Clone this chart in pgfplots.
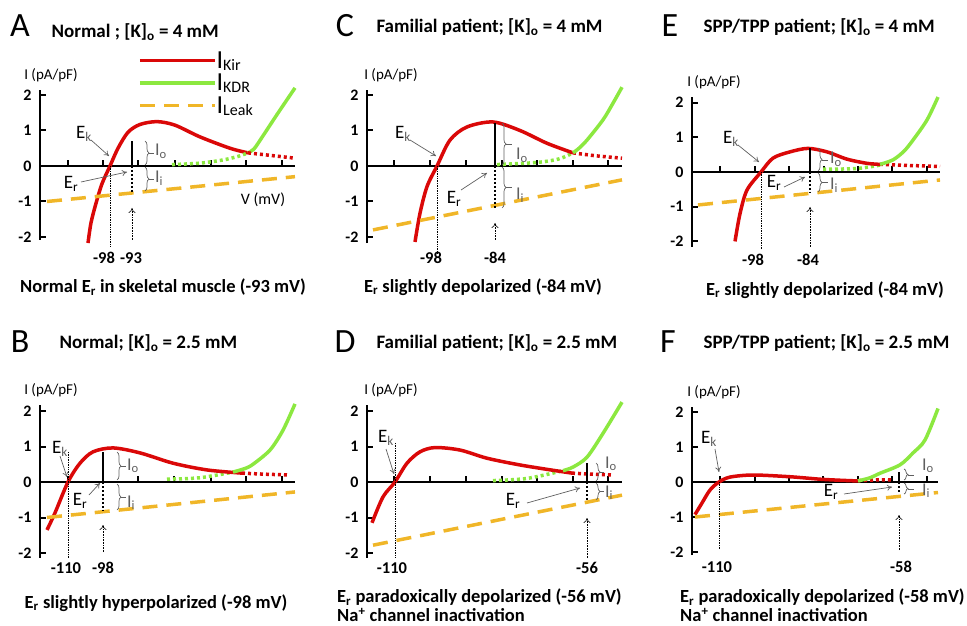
\documentclass[border=0pt]{standalone}
\usepackage{pgfplots}
\pgfplotsset{compat=1.18}
\usepackage{fontspec}
\setmainfont{Carlito}
\usetikzlibrary{decorations.pathreplacing,arrows.meta}

\definecolor{cKir}{RGB}{218,8,8}
\definecolor{cKdr}{RGB}{140,232,64}
\definecolor{cLeak}{RGB}{240,182,40}
\definecolor{note}{RGB}{95,95,95}

\newcommand\fs[1]{\fontsize{#1}{#1}\selectfont}
\newcommand\leg[1]{\fs{26}I\raisebox{-2pt}{\fs{16}#1}}

\pgfplotsset{
  panel/.style={
    anchor=origin, x=1pt, xmin=0,
    axis x line*=middle, axis y line*=left,
    axis line style={line width=2.6pt, black},
    tick align=inside,
    major tick length=6pt,
    tick style={line width=2pt, black},
    ytick={-2,-1,0,1,2}, yticklabels={-2,-1,0,1,2},
    yticklabel style={font=\bfseries\fs{16}, xshift=-5pt},
    xticklabels={},
    clip=false,
  },
  kir/.style={cKir, line width=3.5pt, smooth},
  kirdot/.style={cKir, line width=3.5pt, dash pattern=on 3pt off 3pt, smooth},
  kdr/.style={cKdr, line width=3.5pt, smooth},
  kdrdot/.style={cKdr, line width=3.5pt, dash pattern=on 3pt off 3pt, smooth},
  leak/.style={cLeak, line width=3.5pt, dash pattern=on 15pt off 9pt},
  ekline/.style={black, line width=0.7pt, densely dotted},
  ibar/.style={black, line width=2.6pt},
  ibardot/.style={black, line width=2.6pt, dash pattern=on 2pt off 2pt},
}
\tikzset{
  pArr/.style={note, line width=0.7pt, -{To[length=5pt,width=6pt]}},
  pDarr/.style={black, line width=0.6pt, densely dotted, -{To[length=5pt,width=7pt]}},
  pBrc/.style={note, line width=0.7pt, decorate, decoration={brace, amplitude=4pt}},
  pTip/.style={note, line width=0.7pt},
  pLab/.style={font=\fs{19}},
  pCur/.style={note, font=\fs{18}, anchor=base west, inner sep=0pt},
  pVal/.style={font=\bfseries\fs{16.5}},
  pTtl/.style={font=\bfseries\fs{19}, anchor=west},
  pCap/.style={font=\bfseries\fs{18.5}},
  pCap2/.style={font=\bfseries\fs{18.5}, anchor=north west, inner sep=0pt, align=left},
  pLet/.style={font=\fs{34}},
}

\begin{document}
\begin{tikzpicture}
\useasboundingbox (0,0) rectangle (967pt,625pt);

% ---------------- A
\begin{axis}[panel, at={(40pt,459pt)}, y=35.5pt, xmax=255, ymin=-2.08, ymax=2.14,
  xtick={28,63,98,135,171,206,242},
  legend style={at={(axis description cs:0.384,1.253)}, anchor=north west,
    draw=none, fill=none, inner sep=0pt, row sep=2.5pt,
    nodes={inner sep=0pt, anchor=base west, text height=16pt, text depth=4pt},
    /tikz/every even column/.append style={column sep=10pt}},
  legend cell align=left,
  legend image code/.code={\draw[#1] (0pt,8pt) -- (75pt,8pt);},
]
\addplot[kir] coordinates {(48,-2.17) (51,-1.6) (56,-1.05) (62,-0.5) (70,0) (78,0.5) (88,0.95) (100,1.17) (117,1.25) (135,1.15) (160,0.82) (190,0.5) (208,0.37)};
\addlegendentry{\leg{Kir}}
\addplot[kdr] coordinates {(208,0.37) (214,0.48) (223,0.85) (237,1.45) (255,2.2)};
\addlegendentry{\leg{KDR}}
\addplot[leak] coordinates {(7,-1.0) (255,-0.3)};
\addlegendentry{\leg{Leak}}
\addplot[kirdot, forget plot] coordinates {(208,0.37) (230,0.3) (255,0.22)};
\addplot[kdrdot, forget plot] coordinates {(132,0.04) (160,0.08) (183,0.17) (198,0.27) (208,0.37)};
\addplot[ekline, forget plot] coordinates {(70,0) (70,-2.28)};
\addplot[ibar, forget plot] coordinates {(92,0) (92,0.7)};
\addplot[ibardot, forget plot] coordinates {(92,0) (92,-0.73)};
\end{axis}

% ---------------- C
\begin{axis}[panel, at={(367pt,459pt)}, y=35.5pt, xmax=255, ymin=-2.17, ymax=2.14,
  xtick={27,63,99,135,170,206,241}]
\addplot[kdrdot] coordinates {(130,0.04) (170,0.1) (192,0.2) (206,0.37)};
\addplot[kirdot] coordinates {(206,0.37) (228,0.29) (255,0.22)};
\addplot[kir] coordinates {(48,-2.14) (53,-1.33) (60,-0.58) (70,0) (83,0.73) (100,1.1) (126,1.24) (153,1.0) (180,0.64) (206,0.37)};
\addplot[kdr] coordinates {(206,0.37) (212,0.5) (220,0.73) (236,1.3) (246,1.77) (255,2.22)};
\addplot[leak] coordinates {(6,-1.8) (255,-0.39)};
\addplot[ekline] coordinates {(70,0) (70,-2.45)};
\addplot[ibar] coordinates {(128,0) (128,1.21)};
\addplot[ibardot] coordinates {(128,0) (128,-1.18)};
\end{axis}

% ---------------- E
\begin{axis}[panel, at={(692pt,453pt)}, y=34.7pt, xmax=248, ymin=-2.16, ymax=2.16,
  xtick={28,63,97,132,166,200,235}]
\addplot[kdrdot] coordinates {(131,0.08) (165,0.1) (188,0.2)};
\addplot[kirdot] coordinates {(188,0.22) (215,0.19) (248,0.16)};
\addplot[kir] coordinates {(43,-2.0) (48,-1.2) (55,-0.52) (69,0) (81,0.4) (98,0.58) (116,0.68) (135,0.58) (155,0.37) (175,0.25) (188,0.22)};
\addplot[kdr] coordinates {(188,0.22) (201,0.35) (212,0.6) (221,0.92) (235,1.5) (246,2.16)};
\addplot[leak] coordinates {(6,-0.95) (248,-0.23)};
\addplot[ekline] coordinates {(69,0) (69,-2.25)};
\addplot[ibar] coordinates {(118,0) (118,0.69)};
\addplot[ibardot] coordinates {(118,0) (118,-0.58)};
\end{axis}

% ---------------- B
\begin{axis}[panel, at={(40pt,143pt)}, y=35.5pt, xmax=255, ymin=-2.14, ymax=2.17,
  xtick={28,63,98,134,171,206,242}]
\addplot[kdrdot] coordinates {(127,0.08) (160,0.12) (193,0.28)};
\addplot[kirdot] coordinates {(202,0.25) (225,0.22) (247,0.2)};
\addplot[kir] coordinates {(7,-1.35) (15,-0.87) (28,0) (40,0.53) (53,0.85) (73,0.96) (100,0.82) (133,0.53) (167,0.34) (202,0.25)};
\addplot[kdr] coordinates {(193,0.28) (205,0.38) (213,0.5) (230,0.9) (243,1.46) (255,2.2)};
\addplot[leak] coordinates {(7,-1.0) (255,-0.28)};
\addplot[ekline] coordinates {(28,0.85) (28,-2.14)};
\addplot[ibar] coordinates {(63,0) (63,0.85)};
\addplot[ibardot] coordinates {(63,0) (63,-0.8)};
\end{axis}

% ---------------- D
\begin{axis}[panel, at={(367pt,143pt)}, y=35.5pt, xmax=255, ymin=-2.14, ymax=2.17,
  xtick={27,63,99,135,170,206,241}]
\addplot[kdrdot] coordinates {(126,0.04) (160,0.1) (196,0.32)};
\addplot[kirdot] coordinates {(205,0.25) (225,0.22) (246,0.2)};
\addplot[kir] coordinates {(5,-1.15) (16,-0.42) (28,0) (40,0.53) (53,0.85) (68,0.97) (93,0.9) (120,0.67) (153,0.48) (186,0.33) (205,0.25)};
\addplot[kdr] coordinates {(196,0.32) (206,0.42) (220,0.7) (236,1.37) (255,2.25)};
\addplot[leak] coordinates {(6,-1.78) (255,-0.37)};
\addplot[ekline] coordinates {(28,1.1) (28,-2.11)};
\addplot[ibar] coordinates {(220,0) (220,0.53)};
\addplot[ibardot] coordinates {(220,0) (220,-0.5)};
\end{axis}

% ---------------- F
\begin{axis}[panel, at={(692pt,143pt)}, y=35pt, xmax=246, ymin=-2.09, ymax=2.14,
  xtick={28,63,97,131,166,200,235}]
\addplot[kirdot] coordinates {(166,0.04) (185,0.06) (200,0.06)};
\addplot[kir] coordinates {(3,-0.93) (10,-0.6) (18,-0.23) (27,0) (38,0.14) (61,0.2) (98,0.15) (128,0.08) (148,0.05) (166,0.03)};
\addplot[kdr] coordinates {(166,0.03) (178,0.12) (188,0.25) (208,0.49) (221,0.83) (233,1.2) (246,2.1)};
\addplot[leak] coordinates {(3,-1.0) (246,-0.3)};
\addplot[ekline] coordinates {(27,0) (27,-1.94)};
\addplot[ibar] coordinates {(207,0) (207,0.3)};
\addplot[ibardot] coordinates {(207,0) (207,-0.31)};
\end{axis}

% ---------------- texts and annotations (pixel coordinates, y down)
\begin{scope}[x=1pt, y=-1pt, yshift=625pt]
% A
\node[pLet] at (20,26) {A};
\node[pTtl] at (48,32) {Normal ; [K]\textsubscript{o} = 4 mM};
\node[font=\fs{15}] at (51,75) {I (pA/pF)};
\node[font=\fs{16}] at (263,200) {V (mV)};
\node[pLab] at (84,134) {E\textsubscript{\color{note}k}};
\draw[pArr] (91,140) -- (109,156);
\node[pLab] at (71,184) {E\textsubscript{r}};
\draw[pArr] (81,182) -- (127,172);
\draw[pBrc] (145,141) -- (145,165);
\draw[pTip] (149,153) -- (154,153);
\node[pCur] at (155,156) {I\textsubscript{o}};
\draw[pBrc] (145,167) -- (145,191);
\draw[pTip] (149,179) -- (154,179);
\node[pCur] at (155,183) {I\textsubscript{i}};
\node[pVal] at (104,258) {-98};
\node[pVal] at (131,258) {-93};
\draw[pDarr] (132,240) -- (132,208);
\node[pCap] at (163,287) {Normal E\textsubscript{r} in skeletal muscle (-93 mV)};
% C
\node[pLet] at (345,26) {C};
\node[pTtl] at (373,27) {Familial patient; [K]\textsubscript{o} = 4 mM};
\node[font=\fs{15}] at (391,75) {I (pA/pF)};
\node[pLab] at (403,134) {E\textsubscript{\color{note}k}};
\draw[pArr] (410,140) -- (436,156);
\node[pLab] at (454,199) {E\textsubscript{r}};
\draw[pArr] (461,190) -- (487,173);
\draw[pBrc] (502,123) -- (502,165);
\draw[pTip] (506,144) -- (512,144);
\node[pCur] at (516,160) {I\textsubscript{o}};
\draw[pBrc] (502,167) -- (502,208);
\draw[pTip] (506,187) -- (512,187);
\node[pCur] at (516,200) {I\textsubscript{i}};
\node[pVal] at (431,258) {-98};
\node[pVal] at (495,258) {-84};
\draw[pDarr] (495,240) -- (495,223);
\node[pCap] at (483,287) {E\textsubscript{r} slightly depolarized (-84 mV)};
% E
\node[pLet] at (670,26) {E};
\node[pTtl] at (700,27) {SPP/TPP patient; [K]\textsubscript{o} = 4 mM};
\node[font=\fs{15}] at (714,82) {I (pA/pF)};
\node[pLab] at (731,139) {E\textsubscript{\color{note}k}};
\draw[pArr] (738,145) -- (759,162);
\node[pLab] at (774,183) {E\textsubscript{r}};
\draw[pArr] (784,187) -- (805,177);
\draw[pBrc] (818,148) -- (818,171);
\draw[pTip] (822,160) -- (828,160);
\node[pCur] at (830,164) {I\textsubscript{o}};
\draw[pBrc] (818,173) -- (818,192);
\draw[pTip] (822,182) -- (828,182);
\node[pCur] at (830,190) {I\textsubscript{i}};
\node[pVal] at (753,260) {-98};
\node[pVal] at (808,260) {-84};
\draw[pDarr] (810,247) -- (810,207);
\node[pCap] at (825,290) {E\textsubscript{r} slightly depolarized (-84 mV)};
% B
\node[pLet] at (20,342) {B};
\node[pTtl] at (56,343) {Normal; [K]\textsubscript{o} = 2.5 mM};
\node[font=\fs{15}] at (51,390) {I (pA/pF)};
\node[pLab] at (60,449) {E\textsubscript{\color{note}k}};
\draw[pArr] (60,456) -- (67,477);
\node[pLab] at (80,501) {E\textsubscript{r}};
\draw[pArr] (89,495) -- (100,483);
\draw[pBrc] (117,452) -- (117,480);
\draw[pTip] (121,466) -- (126,466);
\node[pCur] at (127,470) {I\textsubscript{o}};
\draw[pBrc] (117,484) -- (117,510);
\draw[pTip] (121,497) -- (126,497);
\node[pCur] at (127,507) {I\textsubscript{i}};
\node[pVal] at (66,568) {-110};
\node[pVal] at (103,568) {-98};
\draw[pDarr] (103,552) -- (103,525);
\node[pCap] at (156,603) {E\textsubscript{r} slightly hyperpolarized (-98 mV)};
% D
\node[pLet] at (345,342) {D};
\node[pTtl] at (373,343) {Familial patient; [K]\textsubscript{o} = 2.5 mM};
\node[font=\fs{15}] at (391,390) {I (pA/pF)};
\node[pLab] at (386,438) {E\textsubscript{\color{note}k}};
\draw[pArr] (386,449) -- (394,474);
\node[pLab] at (513,501) {E\textsubscript{r}};
\draw[pArr] (527,503) -- (580,488);
\draw[pBrc] (596,463) -- (596,481);
\draw[pTip] (600,472) -- (604,472);
\node[pCur] at (605,468) {I\textsubscript{o}};
\draw[pBrc] (596,483) -- (596,500);
\draw[pTip] (600,491) -- (604,491);
\node[pCur] at (605,497) {I\textsubscript{i}};
\node[pVal] at (392,568) {-110};
\node[pVal] at (587,568) {-56};
\draw[pDarr] (587,558) -- (587,518);
\node[pCap2] at (337,589) {E\textsubscript{r} paradoxically depolarized (-56 mV)\\Na\textsuperscript{+} channel inactivation};
% F
\node[pLet] at (668,342) {F};
\node[pTtl] at (700,343) {SPP/TPP patient; [K]\textsubscript{o} = 2.5 mM};
\node[font=\fs{15}] at (714,392) {I (pA/pF)};
\node[pLab] at (709,439) {E\textsubscript{\color{note}k}};
\draw[pArr] (715,449) -- (719,472);
\node[pLab] at (831,492) {E\textsubscript{r}};
\draw[pArr] (844,494) -- (892,487);
\draw[pBrc] (904,469) -- (904,480);
\draw[pTip] (908,475) -- (914,475);
\node[pCur] at (922,470) {I\textsubscript{o}};
\draw[pBrc] (904,483) -- (904,494);
\draw[pTip] (908,489) -- (914,489);
\node[pCur] at (922,495) {I\textsubscript{i}};
\node[pVal] at (717,567) {-110};
\node[pVal] at (901,567) {-58};
\draw[pDarr] (899,550) -- (899,515);
\node[pCap2] at (680,589) {E\textsubscript{r} paradoxically depolarized (-58 mV)\\Na\textsuperscript{+} channel inactivation};
\end{scope}
\end{tikzpicture}
\end{document}
